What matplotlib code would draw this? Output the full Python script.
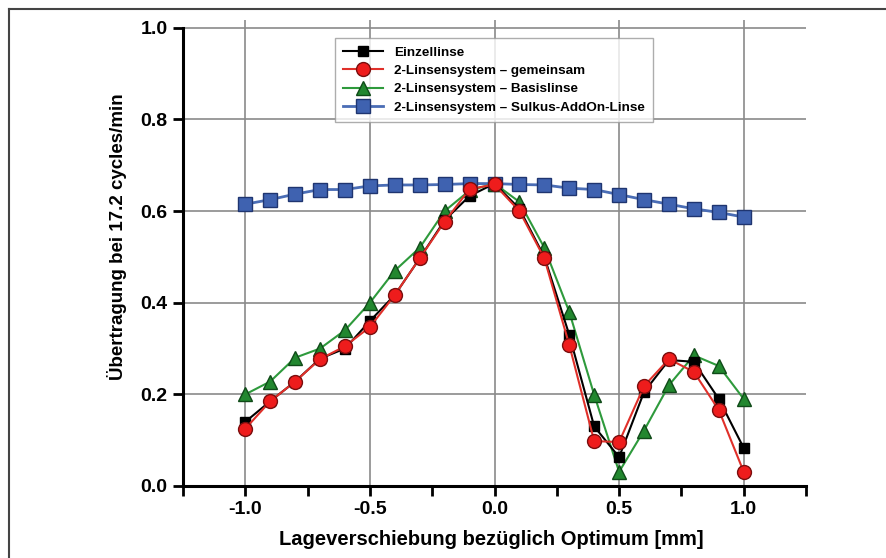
import matplotlib.pyplot as plt
from matplotlib.lines import Line2D
from matplotlib.ticker import MultipleLocator

plt.rcParams['font.family'] = ['Liberation Sans', 'DejaVu Sans']
plt.rcParams['font.weight'] = 'bold'

x = [-1.0, -0.9, -0.8, -0.7, -0.6, -0.5, -0.4, -0.3, -0.2, -0.1, 0.0,
     0.1, 0.2, 0.3, 0.4, 0.5, 0.6, 0.7, 0.8, 0.9, 1.0]

einzel = [0.14, 0.185, 0.228, 0.278, 0.30, 0.36, 0.417, 0.497, 0.58, 0.633, 0.66,
          0.605, 0.50, 0.33, 0.13, 0.063, 0.205, 0.275, 0.271, 0.19, 0.083]
gemeinsam = [0.125, 0.185, 0.228, 0.277, 0.305, 0.347, 0.417, 0.497, 0.577, 0.648, 0.658,
             0.600, 0.497, 0.308, 0.098, 0.096, 0.218, 0.277, 0.249, 0.166, 0.031]
basis = [0.20, 0.228, 0.28, 0.30, 0.34, 0.40, 0.47, 0.52, 0.60, 0.645, 0.66,
         0.62, 0.52, 0.38, 0.199, 0.031, 0.121, 0.22, 0.285, 0.262, 0.19]
sulkus = [0.615, 0.625, 0.637, 0.647, 0.647, 0.655, 0.657, 0.657, 0.658, 0.66, 0.66,
          0.658, 0.657, 0.65, 0.647, 0.636, 0.625, 0.615, 0.605, 0.597, 0.587]

labels = ['Einzellinse', '2-Linsensystem \u2013 gemeinsam',
          '2-Linsensystem \u2013 Basislinse', '2-Linsensystem \u2013 Sulkus-AddOn-Linse']

fig = plt.figure(figsize=(8.87, 5.58), dpi=100)
ax = fig.add_axes([183 / 887, 1 - 486 / 558, (806 - 183) / 887, (486 - 20) / 558])

l4, = ax.plot(x, sulkus, '-s', color='#4a6db5', mfc='#3f62b0', mec='#1f3570',
              ms=9.5, lw=2, zorder=3)
l3, = ax.plot(x, basis, '-^', color='#2e9a3c', mfc='#22872f', mec='#0f4a18',
              ms=9.5, lw=1.5, zorder=4)
l1, = ax.plot(x, einzel, '-s', color='black', mfc='black', mec='black',
              ms=6.5, lw=1.5, zorder=5)
l2, = ax.plot(x, gemeinsam, '-o', color='#e0302a', mfc='#ee1c1c', mec='#7a0e0e',
              ms=10, lw=1.5, zorder=6)

ax.set_xlim(-1.25, 1.25)
ax.set_ylim(0, 1.017)
ax.xaxis.set_minor_locator(MultipleLocator(0.25))
ax.set_yticks([0.0, 0.2, 0.4, 0.6, 0.8, 1.0])
ax.set_xticks([-1.0, -0.5, 0.0, 0.5, 1.0])
ax.set_xticklabels(['-1.0', '-0.5', '0.0', '0.5', '1.0'])
ax.set_yticklabels(['0.0', '0.2', '0.4', '0.6', '0.8', '1.0'])
ax.tick_params(axis='both', which='major', labelsize=14, width=2, length=7,
               direction='out', pad=4)
ax.tick_params(axis='x', which='minor', width=2, length=7, direction='out')

ax.grid(True, which='major', color='#8a8a8a', lw=1.2, zorder=0)
for s in ['top', 'right']:
    ax.spines[s].set_visible(False)
for s in ['left', 'bottom']:
    ax.spines[s].set_linewidth(2.2)
ax.spines['left'].set_bounds(0, 1.0)

ax.set_xlabel('Lageverschiebung bez\u00fcglich Optimum [mm]', fontsize=14.5, fontweight='bold')
ax.set_ylabel('\u00dcbertragung bei 17.2 cycles/min', fontsize=13.5, fontweight='bold')
ax.xaxis.set_label_coords(0.495, -0.095)
ax.yaxis.set_label_coords(-0.09, 0.535)

leg = ax.legend([l1, l2, l3, l4], labels, loc='upper left',
                bbox_to_anchor=(335 / 887, 1 - 38 / 558), bbox_transform=fig.transFigure,
                borderaxespad=0, fontsize=9.7, frameon=True, fancybox=False,
                edgecolor='#999999', handlelength=3, labelspacing=0.45,
                borderpad=0.6)
leg.get_frame().set_linewidth(1)

# page frame
fig.add_artist(Line2D([9 / 887, 1], [1 - 9 / 558, 1 - 9 / 558], color='#444444', lw=1.5,
                      transform=fig.transFigure))
fig.add_artist(Line2D([9 / 887, 9 / 887], [0, 1 - 9 / 558], color='#444444', lw=1.5,
                      transform=fig.transFigure))

fig.savefig('out.png', dpi=100)
